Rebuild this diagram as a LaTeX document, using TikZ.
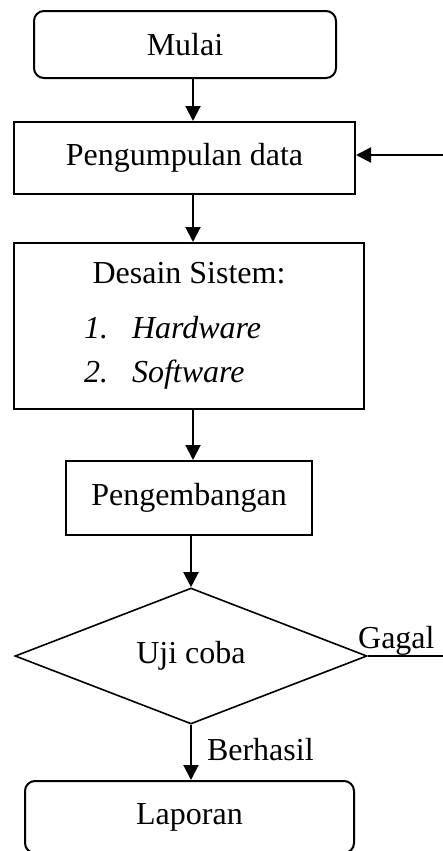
\documentclass[tikz,border=0pt]{standalone}
\usepackage{fontspec}
\setmainfont{Liberation Serif}
\usepackage{tikz}
\usetikzlibrary{shapes.geometric,arrows.meta,positioning}

\tikzset{
  terminal/.style={draw, line width=1pt, rounded corners=5pt, inner sep=0pt},
  proses/.style={draw, line width=1pt, inner sep=0pt},
  keputusan/.style={draw, diamond, aspect=2.6, line width=0.8pt, inner sep=0pt,
    minimum width=176pt, minimum height=68pt},
}

\begin{document}
\begin{tikzpicture}[x=0.5pt, y=-0.5pt, >={Triangle[length=7.5pt,width=7.5pt]},
    every node/.style={font=\fontsize{16}{19}\selectfont}]
    \useasboundingbox (0,0) rectangle (443,851);
    \node[terminal, minimum width=151pt, minimum height=33.5pt] (mulai) at (185,44.5) {Mulai};
    \node[proses, minimum width=170.5pt, minimum height=36pt] (data) at (184.5,158) {Pengumpulan data};
    \node[proses, minimum width=175pt, minimum height=83pt, align=center] (desain) at (189,326)
        {Desain Sistem:\\[8.5pt]
         \makebox[105pt][l]{\textit{1.}\hspace{12pt}\textit{Hardware}}\\[3pt]
         \makebox[105pt][l]{\textit{2.}\hspace{12pt}\textit{Software}}};
    \node[proses, minimum width=123pt, minimum height=37pt] (kembang) at (189,498) {Pengembangan};
    \node[keputusan] (uji) at (191,656) {Uji coba};
    \node[terminal, minimum width=164.5pt, minimum height=36pt] (lapor) at (189.5,817) {Laporan};
    \coordinate (poros) at (193,0);
    \coordinate (gagalujung) at (443,656);
    \coordinate (balik) at (443,155);
    \draw[->, line width=1pt] (mulai.south -| poros) -- (data.north -| poros);
    \draw[->, line width=1pt] (data.south -| poros) -- (desain.north -| poros);
    \draw[->, line width=1pt] (desain.south -| poros) -- (kembang.north -| poros);
    \draw[->, line width=1pt] (kembang.south -| uji.north) -- (uji.north);
    \draw[->, line width=1pt] (uji.south) -- (uji.south |- lapor.north)
        node[pos=0.45, right, inner sep=0pt, xshift=7.5pt] {Berhasil};
    \draw[line width=1pt] (uji.east) -- (gagalujung)
        node[pos=0.38, above, inner sep=0pt] {Gagal};
    \draw[->, line width=1pt] (balik) -- (data.east |- balik);
\end{tikzpicture}
\end{document}
